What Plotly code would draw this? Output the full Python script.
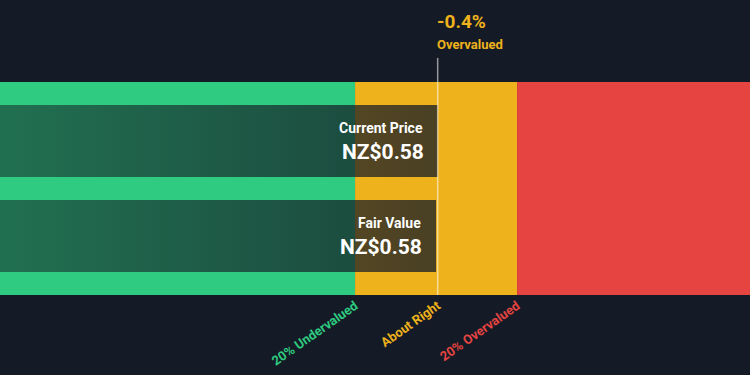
import plotly.graph_objects as go

# ---- data ----
fair_value = 0.58
current_price = 0.5823
price_labels = ["Fair Value", "Current Price"]
price_values = [fair_value, current_price]
price_texts = ["NZ$0.58", "NZ$0.58"]
diff_pct_text = "-0.4%"
diff_label = "Overvalued"
band_edges = [0.8, 1.2]  # multiples of fair value
band_names = ["20% Undervalued", "About Right", "20% Overvalued"]

BG = "#151b26"
GREEN = "#2ecb80"
YELLOW = "#eeb21c"
RED = "#e64441"
FONT = "Roboto"

x_min = -0.0765 * fair_value
x_max = 1.775 * fair_value
bar_w = 0.758
y_lo, y_hi = -0.621, 1.621

fig = go.Figure()

# background bands
lo = band_edges[0] * fair_value
hi = band_edges[1] * fair_value
for x0, x1, c in [(x_min, lo, GREEN), (lo, hi, YELLOW), (hi, x_max, RED)]:
    fig.add_shape(type="rect", xref="x", yref="paper", x0=x0, x1=x1, y0=0, y1=1,
                  fillcolor=c, line_width=0, layer="below")

# overlay bars with gradient
for i, (lab, val, txt) in enumerate(zip(price_labels, price_values, price_texts)):
    y0, y1 = i - bar_w / 2, i + bar_w / 2
    fig.add_trace(go.Scatter(
        x=[x_min, val, val, x_min, x_min], y=[y0, y0, y1, y1, y0],
        fill="toself", mode="lines", line=dict(width=0),
        fillgradient=dict(type="horizontal",
                          colorscale=[[0, "rgba(21,27,38,0.52)"], [1, "rgba(21,27,38,0.76)"]]),
        hoverinfo="skip", showlegend=False))
    fig.add_annotation(x=val, y=i, xref="x", yref="y", text=f"<b>{lab}</b>",
                       showarrow=False, xanchor="right", yanchor="middle",
                       xshift=-13, yshift=13, font=dict(family=FONT, size=14, color="white"))
    fig.add_annotation(x=val, y=i, xref="x", yref="y", text=f"<b>{txt}</b>",
                       showarrow=False, xanchor="right", yanchor="middle",
                       xshift=-12, yshift=-11, font=dict(family=FONT, size=21, color="white"))

# marker line
fig.add_shape(type="line", xref="x", yref="paper", x0=current_price, x1=current_price,
              y0=0, y1=1.113, line=dict(color="rgba(255,255,255,0.55)", width=1.5))
fig.add_trace(go.Scatter(x=[current_price], y=[y_hi + 24 / 95], mode="markers",
                         marker=dict(color=YELLOW, size=3), cliponaxis=False,
                         hoverinfo="skip", showlegend=False))

fig.add_annotation(x=current_price, y=1.282, xref="x", yref="paper", text=f"<b>{diff_pct_text}</b>",
                   showarrow=False, xanchor="left", yanchor="middle", xshift=-3,
                   font=dict(family=FONT, size=19, color=YELLOW))
fig.add_annotation(x=current_price, y=1.178, xref="x", yref="paper", text=f"<b>{diff_label}</b>",
                   showarrow=False, xanchor="left", yanchor="middle", xshift=-3,
                   font=dict(family=FONT, size=13, color=YELLOW))

tick_colors = [GREEN, YELLOW, RED]
fig.update_layout(
    width=750, height=375, paper_bgcolor=BG, plot_bgcolor=BG,
    margin=dict(l=0, r=0, t=82, b=80),
    xaxis=dict(range=[x_min, x_max], showgrid=False, zeroline=False, showline=False,
               tickmode="array", tickvals=[lo, current_price, hi],
               ticktext=[f"<span style='color:{c}'><b>{n}</b></span>" for n, c in zip(band_names, tick_colors)],
               tickangle=-35, ticks="", tickfont=dict(family=FONT, size=13), fixedrange=True),
    yaxis=dict(range=[y_lo, y_hi], showgrid=False, zeroline=False, showticklabels=False, fixedrange=True),
    showlegend=False,
)

fig.write_html("out.html", config={"displayModeBar": False},
               post_script="document.body.style.margin='0';document.body.style.background='#151b26';")
